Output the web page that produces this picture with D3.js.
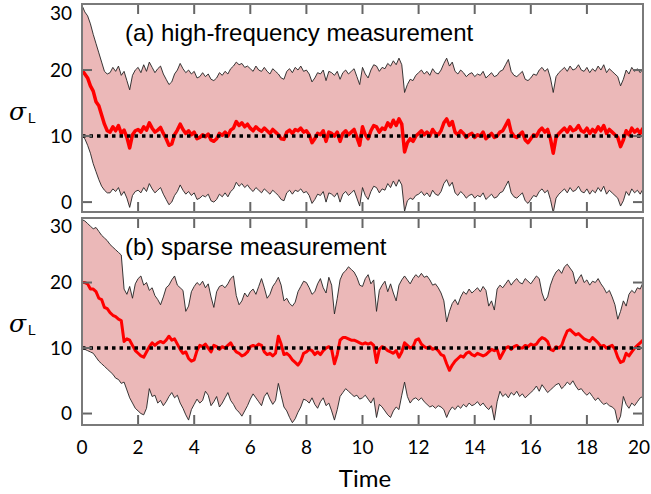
<!DOCTYPE html>
<html>
<head>
<meta charset="utf-8">
<script src="https://cdn.jsdelivr.net/npm/d3@7"></script>
<style>
  body { margin: 0; background: #fff; }
  svg { display: block; }
</style>
</head>
<body>
<div id="chart"></div>
<script>
// sample times: every 0.1 from 0 to 20
const times = d3.range(201).map(i => i / 10);

// (a) high-frequency measurement
const meanA = [
  20.0,19.4,18.8,17.6,16.8,15.2,14.6,13.2,11.8,10.8,
  10.6,11.4,10.8,11.6,10.4,10.9,9.8,8.2,10.2,10.8,
  11.0,10.6,11.4,10.9,12.0,11.2,10.6,10.9,11.3,10.4,
  9.6,8.6,8.8,10.2,10.9,11.8,11.0,10.4,10.8,10.2,
  10.6,9.6,9.8,10.2,9.9,10.3,9.4,9.2,9.6,10.4,
  10.1,10.6,10.0,10.9,11.2,12.2,11.6,12.0,11.4,11.8,
  11.2,10.8,11.4,11.0,10.7,11.2,10.8,10.4,11.0,10.6,
  10.2,9.6,9.5,10.6,10.9,10.4,11.0,10.8,11.2,10.6,
  10.8,10.2,9.0,9.6,10.4,10.2,10.8,9.2,10.6,10.4,
  10.0,10.6,9.2,10.4,10.8,10.2,10.6,11.0,9.8,8.6,
  11.4,10.2,9.6,10.8,11.6,11.4,10.6,11.2,11.0,12.0,
  11.4,12.4,11.6,12.6,11.8,7.6,9.0,9.6,9.2,10.0,
  10.4,10.8,10.2,10.6,10.0,11.0,10.4,10.2,10.8,12.0,
  12.6,11.6,12.2,10.6,10.2,10.8,10.4,9.8,10.2,10.4,
  9.8,10.2,10.0,10.6,9.6,10.0,10.4,9.8,10.0,10.6,
  10.8,11.6,12.4,10.6,10.0,9.8,10.2,10.6,9.4,9.0,
  9.6,10.2,10.0,10.8,11.2,10.6,11.0,9.6,7.4,9.8,
  10.4,10.8,11.2,10.6,11.4,10.8,11.0,11.6,10.8,10.6,
  11.2,10.4,11.0,10.6,11.4,10.8,11.6,10.4,11.0,10.6,
  10.2,9.8,8.4,9.4,10.8,10.2,11.2,10.6,11.0,10.4,
  11.2
];
const upperA = [
  29.8,28.8,28.2,27.0,25.4,24.0,22.6,21.2,19.8,19.4,
  19.6,20.4,19.8,20.6,19.2,19.8,18.4,17.0,19.2,20.0,
  20.4,19.6,20.8,19.8,21.2,20.4,19.6,20.2,20.6,19.4,
  18.6,17.8,18.2,19.4,20.0,21.0,20.2,19.6,20.0,19.4,
  19.8,18.8,19.0,19.6,19.0,19.4,18.6,18.4,18.8,19.6,
  19.2,19.8,19.4,20.2,20.6,21.2,20.8,21.0,20.4,20.6,
  20.2,19.8,20.6,20.0,19.8,20.4,19.8,19.4,20.2,19.8,
  19.4,18.8,18.6,19.8,20.2,19.6,20.4,20.0,20.6,19.8,
  20.0,19.4,18.2,18.8,19.6,19.4,20.0,18.4,19.8,19.6,
  19.2,19.8,18.6,19.6,20.0,19.4,19.8,20.2,19.0,17.8,
  20.4,19.4,18.8,20.0,20.8,20.6,19.8,20.4,20.2,21.0,
  20.6,21.4,20.8,21.8,20.8,16.6,17.8,18.6,18.4,19.2,
  19.6,20.0,19.4,19.8,19.2,20.2,19.6,19.4,20.0,21.0,
  21.8,20.6,21.2,19.8,19.4,20.0,19.6,19.0,19.4,19.6,
  19.0,19.4,19.2,19.8,18.8,19.2,19.6,19.0,19.2,19.8,
  20.0,20.8,21.6,19.8,19.2,19.0,19.4,19.8,18.6,18.4,
  18.8,19.4,19.2,20.0,20.4,19.8,20.2,18.8,16.6,19.0,
  19.6,20.0,20.4,19.8,20.6,20.0,20.2,20.8,20.0,19.8,
  20.4,19.6,20.2,19.8,20.6,20.0,20.8,19.6,20.2,19.8,
  19.4,19.0,17.6,18.6,20.0,19.4,20.4,19.8,20.2,19.6,
  20.2
];
const lowerA = [
  10.0,9.6,8.6,7.4,5.8,4.6,3.4,2.4,1.8,1.4,
  1.4,2.0,1.6,2.2,1.0,1.6,0.6,-0.8,1.0,1.6,
  1.8,1.4,2.2,1.6,2.8,2.0,1.4,1.8,2.2,1.2,
  0.4,-0.4,0.0,1.0,1.6,2.6,1.8,1.2,1.6,1.0,
  1.4,0.4,0.6,1.0,0.8,1.2,0.2,0.0,0.4,1.2,
  0.8,1.4,0.8,1.6,2.0,3.0,2.4,2.8,2.2,2.6,
  2.0,1.6,2.2,1.8,1.4,2.0,1.6,1.2,1.8,1.4,
  1.0,0.4,0.2,1.4,1.8,1.2,1.8,1.6,2.0,1.4,
  1.6,1.0,-0.2,0.4,1.2,1.0,1.6,0.0,1.4,1.2,
  0.8,1.4,0.0,1.2,1.6,1.0,1.4,1.8,0.6,-0.6,
  2.2,1.0,0.4,1.6,2.4,2.2,1.4,2.0,1.8,2.8,
  2.2,3.2,2.4,3.4,2.6,-1.4,0.2,0.6,0.4,1.0,
  1.2,1.6,1.0,1.4,0.8,1.8,1.2,1.0,1.6,2.8,
  3.4,2.4,3.0,1.4,1.0,1.6,1.2,0.6,1.0,1.2,
  0.6,1.0,0.8,1.4,0.4,0.8,1.2,0.6,0.8,1.4,
  1.6,2.4,3.2,1.4,0.8,0.6,1.0,1.4,0.2,-0.2,
  0.4,1.0,0.8,1.6,2.0,1.4,1.8,0.4,-1.6,0.6,
  1.2,1.6,2.0,1.4,2.2,1.6,1.8,2.4,1.6,1.4,
  2.0,1.2,1.8,1.4,2.2,1.6,2.4,1.2,1.8,1.4,
  1.0,0.6,-0.6,0.2,1.6,1.0,2.0,1.4,1.8,1.2,
  2.0
];

// (b) sparse measurement
const meanB = [
  20.0,20.0,19.8,19.0,19.0,18.6,17.6,17.4,16.2,16.0,
  15.4,15.0,14.8,14.4,14.2,11.0,11.4,11.2,10.4,9.6,
  9.2,8.8,8.6,9.4,10.2,10.8,10.4,10.8,11.0,10.8,
  11.2,11.8,11.2,11.4,10.6,9.8,9.2,9.4,8.4,8.0,
  8.2,9.6,10.4,10.2,10.6,10.0,9.4,10.4,10.2,9.8,
  10.2,10.0,10.4,10.8,10.0,9.4,9.2,8.8,9.0,9.4,
  10.2,10.4,10.2,10.6,10.4,9.4,9.0,9.2,8.8,9.2,
  11.8,10.6,9.0,9.2,8.8,8.2,7.8,7.4,8.0,9.2,
  9.4,9.8,9.6,9.0,9.4,9.0,9.6,10.0,10.2,9.8,
  7.6,9.0,11.2,11.6,11.6,11.4,11.2,11.2,11.0,10.8,
  10.6,10.8,10.6,10.8,10.4,7.8,9.8,10.2,10.0,9.6,
  9.4,9.2,9.6,8.6,9.4,10.8,10.4,10.0,10.2,11.2,
  11.4,10.6,10.2,10.0,10.2,9.8,10.0,9.6,9.0,8.8,
  7.6,6.6,7.4,8.0,8.4,8.8,8.6,9.2,9.4,9.0,
  8.8,9.2,9.0,8.8,9.0,9.4,9.8,9.6,9.8,8.4,
  9.2,10.0,10.2,9.8,10.2,10.4,10.0,10.0,10.4,10.2,
  10.6,10.4,10.6,11.2,11.6,11.4,11.0,9.8,9.6,10.2,
  10.0,10.4,11.6,12.6,12.8,12.4,12.0,12.2,11.8,11.4,
  11.2,11.0,11.6,11.2,10.8,10.2,10.4,10.0,10.2,10.4,
  9.8,8.6,7.8,8.0,9.2,8.8,9.4,10.0,10.4,10.8,
  11.2
];
const upperB = [
  29.6,29.4,29.0,28.6,28.2,28.4,27.8,27.2,26.8,26.4,
  25.8,25.4,25.0,24.6,24.2,19.0,18.2,19.4,17.6,19.8,
  20.6,21.0,19.6,20.0,18.8,19.2,18.0,17.4,16.6,17.8,
  19.2,19.6,20.4,21.0,19.6,19.2,18.8,15.6,16.4,18.6,
  19.4,20.0,19.6,20.2,19.2,19.8,17.8,16.2,18.6,19.4,
  19.6,19.2,19.8,20.6,21.0,18.0,16.6,17.2,18.4,17.8,
  18.6,19.0,18.2,19.4,20.6,19.2,17.6,18.2,19.4,20.0,
  20.8,19.6,17.2,17.6,16.8,16.4,17.0,18.6,19.4,20.2,
  20.0,19.2,18.2,18.6,19.8,20.6,19.2,18.4,20.8,19.6,
  15.2,17.6,20.4,21.4,21.8,22.4,22.0,21.6,20.8,19.6,
  19.4,20.6,21.2,19.8,20.4,15.6,18.8,19.6,20.2,18.6,
  19.8,18.4,17.2,19.6,20.4,21.0,20.4,19.8,20.6,21.2,
  20.8,21.4,20.8,21.0,20.4,19.6,19.8,19.2,18.4,17.2,
  14.0,15.6,16.8,17.4,16.6,17.8,18.6,18.2,19.0,18.4,
  18.8,19.2,18.6,19.4,18.8,16.4,17.2,15.8,19.0,19.6,
  19.2,19.8,20.4,19.6,20.2,20.6,20.0,19.8,20.6,20.2,
  19.8,20.4,21.0,20.6,18.4,17.2,17.8,19.6,20.8,21.6,
  22.0,21.4,22.4,22.8,22.2,21.6,19.8,20.6,21.2,20.0,
  20.4,19.6,20.2,20.0,20.6,19.8,19.2,18.4,18.8,17.8,
  16.6,14.4,15.6,17.2,16.4,18.2,18.8,18.4,19.2,19.0,
  20.0
];
const lowerB = [
  10.0,9.8,9.6,9.4,9.2,8.6,8.0,7.6,7.2,6.8,
  6.4,6.0,5.4,5.2,4.6,4.8,3.6,2.4,1.6,0.8,
  0.4,0.0,-0.2,0.8,3.8,2.6,2.8,1.6,2.0,1.2,
  1.8,2.6,3.2,2.4,2.8,1.6,0.8,-0.2,-1.0,0.6,
  1.4,2.2,1.6,2.0,3.4,2.8,1.2,1.8,2.6,1.0,
  1.6,2.4,3.2,2.0,1.4,0.6,0.2,-0.4,0.4,1.2,
  2.2,3.0,2.4,1.8,1.2,2.6,3.2,2.2,1.4,2.0,
  4.6,2.8,1.0,0.4,-0.6,-1.4,-0.8,0.2,1.0,2.2,
  2.0,1.6,2.4,1.4,0.8,1.8,2.4,1.2,1.6,0.4,
  -1.0,0.6,2.6,3.2,3.8,3.4,3.0,2.6,2.8,2.2,
  2.4,2.8,2.2,1.6,2.4,-0.6,1.4,1.0,0.4,-0.2,
  -0.6,0.4,1.0,0.6,2.8,4.8,2.6,1.6,2.2,2.4,
  2.0,2.4,1.8,1.4,1.0,1.2,0.8,1.2,1.0,0.6,
  -0.6,0.4,1.0,0.6,1.2,0.8,1.4,1.0,1.6,1.2,
  1.4,1.8,1.2,1.6,1.0,0.6,1.2,-1.0,1.8,3.4,
  2.6,3.0,2.4,3.2,2.8,3.4,2.6,3.0,2.4,2.8,
  3.2,3.6,4.2,3.4,4.4,3.8,3.2,3.6,4.0,4.4,
  4.6,3.8,4.2,4.8,4.4,5.0,4.2,3.6,3.8,3.2,
  2.8,3.2,2.6,2.0,2.4,1.8,1.4,1.6,1.2,1.0,
  0.6,-1.4,-0.4,2.6,1.4,0.8,1.6,1.2,1.8,2.4,
  2.6
];

const trueValue = 10;
const xTicks = d3.range(0, 21, 2);
const yTicks = [0, 10, 20, 30];

const width = 651, height = 494;
const left = 82, right = 643;
const tickLen = 10;

const svg = d3.select("#chart")
  .append("svg")
  .attr("width", width)
  .attr("height", height);

const x = d3.scaleLinear().domain([0, 20]).range([left, right]);

const panels = [
  { id: "a", title: "(a) high-frequency measurement", top: 4, bottom: 212,
    lo: -1.5, hi: 30, mean: meanA, upper: upperA, lower: lowerA, lw: 3.5 },
  { id: "b", title: "(b) sparse measurement", top: 218, bottom: 425,
    lo: -1.75, hi: 29.85, mean: meanB, upper: upperB, lower: lowerB, lw: 3 }
];

panels.forEach(function(p, k) {
  var y = d3.scaleLinear().domain([p.lo, p.hi]).range([p.bottom, p.top]);
  var rows = times.map(function(t, i) {
    return { t: t, m: p.mean[i], u: p.upper[i], l: p.lower[i] };
  });

  svg.append("clipPath")
    .attr("id", "clip-" + p.id)
    .append("rect")
    .attr("x", left)
    .attr("y", p.top)
    .attr("width", right - left)
    .attr("height", p.bottom - p.top);

  var g = svg.append("g").attr("clip-path", "url(#clip-" + p.id + ")");

  g.append("path")
    .datum(rows)
    .attr("fill", "#ebb8b8")
    .attr("d", d3.area()
      .x(d => x(d.t))
      .y0(d => y(d.l))
      .y1(d => y(d.u)));

  ["u", "l"].forEach(function(key) {
    g.append("path")
      .datum(rows)
      .attr("fill", "none")
      .attr("stroke", "#222")
      .attr("stroke-width", 0.9)
      .attr("d", d3.line().x(d => x(d.t)).y(d => y(d[key])));
  });

  g.append("path")
    .datum(rows)
    .attr("fill", "none")
    .attr("stroke", "#ff0000")
    .attr("stroke-width", p.lw)
    .attr("stroke-linejoin", "round")
    .attr("d", d3.line().x(d => x(d.t)).y(d => y(d.m)));

  g.append("line")
    .attr("x1", left)
    .attr("x2", right)
    .attr("y1", y(trueValue))
    .attr("y2", y(trueValue))
    .attr("stroke", "#000")
    .attr("stroke-width", 3.5)
    .attr("stroke-dasharray", "3.5,4");

  // inward ticks on all four sides
  var tk = svg.append("g")
    .attr("stroke", "#666")
    .attr("stroke-width", 2);

  tk.selectAll("line.xt")
    .data(xTicks)
    .join("line")
    .attr("class", "xt")
    .attr("x1", d => x(d))
    .attr("x2", d => x(d))
    .attr("y1", p.top)
    .attr("y2", p.top + tickLen);

  tk.selectAll("line.xbt")
    .data(xTicks)
    .join("line")
    .attr("class", "xbt")
    .attr("x1", d => x(d))
    .attr("x2", d => x(d))
    .attr("y1", p.bottom)
    .attr("y2", p.bottom - tickLen);

  tk.selectAll("line.yl")
    .data(yTicks.slice(0, 3))
    .join("line")
    .attr("class", "yl")
    .attr("x1", left)
    .attr("x2", left + tickLen)
    .attr("y1", d => y(d))
    .attr("y2", d => y(d));

  tk.selectAll("line.yr")
    .data(yTicks.slice(0, 3))
    .join("line")
    .attr("class", "yr")
    .attr("x1", right)
    .attr("x2", right - tickLen)
    .attr("y1", d => y(d))
    .attr("y2", d => y(d));

  // y tick labels (the top label sits a little inside the frame)
  svg.append("g")
    .selectAll("text")
    .data(yTicks)
    .join("text")
    .attr("x", left - 10)
    .attr("y", d => y(d) + (d === 30 ? 9 : 0))
    .attr("dy", "0.35em")
    .attr("text-anchor", "end")
    .style("font-family", "Lato, 'Open Sans', sans-serif")
    .style("font-size", "19px")
    .text(d => d);

  if (k === 1) {
    svg.append("g")
      .selectAll("text")
      .data(xTicks)
      .join("text")
      .attr("x", d => x(d) - (d === 20 ? 4 : 0))
      .attr("y", p.bottom + 29)
      .attr("text-anchor", "middle")
      .style("font-family", "Lato, 'Open Sans', sans-serif")
      .style("font-size", "19px")
      .text(d => d);
  }

  svg.append("rect")
    .attr("x", left)
    .attr("y", p.top)
    .attr("width", right - left)
    .attr("height", p.bottom - p.top)
    .attr("fill", "none")
    .attr("stroke", "#7a7a7a")
    .attr("stroke-width", 2);

  svg.append("text")
    .attr("x", 125)
    .attr("y", p.top + 37)
    .style("font-family", "'Liberation Sans', Arial, sans-serif")
    .style("font-size", "24px")
    .text(p.title);

  var lab = svg.append("text")
    .attr("x", 9)
    .attr("y", y(trueValue) - 16)
    .style("font-family", "'DejaVu Serif', serif")
    .style("font-size", "25px");
  lab.append("tspan").style("font-style", "italic").text("σ");
  lab.append("tspan")
    .attr("dy", 3)
    .attr("dx", 2)
    .style("font-family", "'Liberation Sans', Arial, sans-serif")
    .style("font-size", "14px")
    .text("L");
});

svg.append("text")
  .attr("x", 365)
  .attr("y", 487)
  .attr("text-anchor", "middle")
  .style("font-family", "Lato, 'Open Sans', sans-serif")
  .style("font-size", "24px")
  .text("Time");
</script>
</body>
</html>
